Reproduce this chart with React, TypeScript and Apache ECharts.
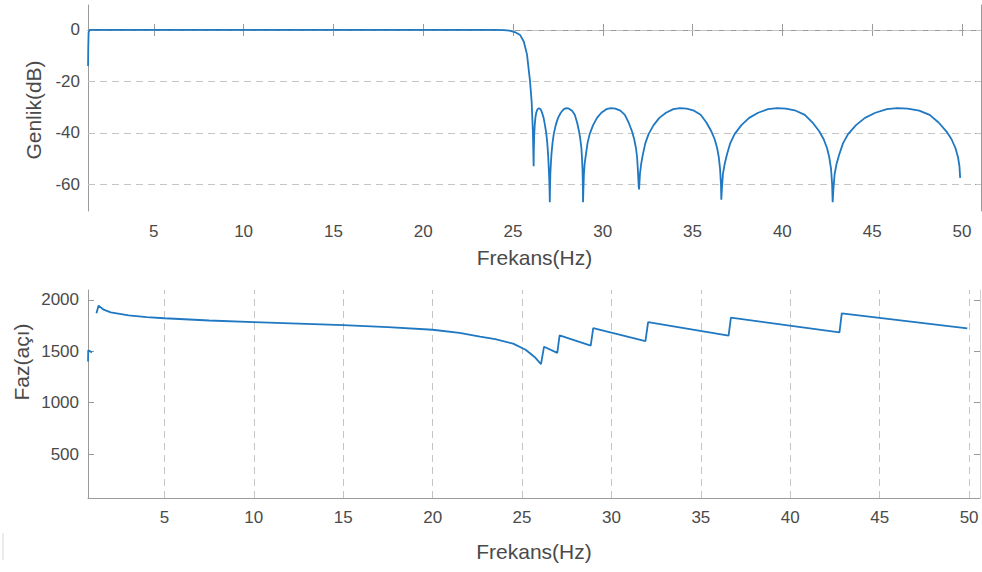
import React, { useEffect, useRef } from "react";
import * as echarts from "echarts";

// ---- Data ----
const magFreq = [
  1.34, 1.35, 1.37, 1.42, 5, 10, 15, 20, 24.0, 24.5, 24.8, 25.1, 25.4, 25.6, 25.78, 25.95, 26.04, 26.11, 26.15,
  26.16, 26.18, 26.21, 26.25, 26.3, 26.37, 26.45, 26.53, 26.61, 26.7, 26.78, 26.85, 26.91, 26.96, 27.0, 27.03, 27.05,
  27.06, 27.08, 27.11, 27.14, 27.2, 27.27, 27.38, 27.51, 27.66, 27.83, 27.98, 28.12, 28.29, 28.44, 28.57, 28.68, 28.75, 28.81, 28.84, 28.87, 28.89, 28.9,
  28.92, 28.95, 28.99, 29.06, 29.15, 29.27, 29.46, 29.68, 29.92, 30.2, 30.45, 30.7, 30.98, 31.23, 31.44, 31.63, 31.75, 31.85, 31.91, 31.95, 31.98, 32.0,
  32.02, 32.07, 32.14, 32.23, 32.37, 32.55, 32.83, 33.15, 33.52, 33.93, 34.3, 34.67, 35.08, 35.45, 35.77, 36.05, 36.23, 36.37, 36.46, 36.53, 36.58, 36.6,
  36.63, 36.69, 36.79, 36.91, 37.1, 37.34, 37.72, 38.15, 38.65, 39.2, 39.7, 40.2, 40.75, 41.25, 41.68, 42.06, 42.3, 42.49, 42.61, 42.71, 42.77, 42.8,
  42.84, 42.91, 43.02, 43.16, 43.38, 43.66, 44.1, 44.6, 45.18, 45.82, 46.4, 46.98, 47.62, 48.2, 48.7, 49.14, 49.42, 49.64, 49.78, 49.86, 49.9,
];
const magDb = [
  -14, -7, -1, 0, 0, 0, 0, 0, 0, -0.1, -0.3, -0.8, -2, -4.5, -9.5, -20, -28, -40, -53,
  -47, -41, -37, -34, -32, -30.8, -30.4, -30.8, -32, -34, -37, -40, -44, -49, -55, -60, -67,
  -62, -56, -52, -48.5, -44, -40.5, -37, -34.2, -32.2, -30.8, -30.4, -30.6, -31.4, -33, -36, -39.5, -42.5, -46, -49.5, -54, -60, -67,
  -62, -56, -52, -48.5, -44, -40.5, -37, -34.2, -32.2, -30.8, -30.4, -30.6, -31.4, -33, -36, -39.5, -42.5, -46, -49.5, -54, -58, -61,
  -62, -56, -52, -48.5, -44, -40.5, -37, -34.2, -32.2, -30.8, -30.4, -30.6, -31.4, -33, -36, -39.5, -42.5, -46, -49.5, -54, -60, -66,
  -62, -56, -52, -48.5, -44, -40.5, -37, -34.2, -32.2, -30.8, -30.4, -30.6, -31.4, -33, -36, -39.5, -42.5, -46, -49.5, -54, -60, -67,
  -62, -56, -52, -48.5, -44, -40.5, -37, -34.2, -32.2, -30.8, -30.4, -30.6, -31.4, -33, -36, -39.5, -42.5, -46, -49.5, -53, -57.5,
];

const phaseFreq = [
  0.73, 0.74, 0.95, 1.0, 1.2, 1.32, 1.6, 2.0, 3.0, 4.0, 5.0, 7.5, 10, 12.5, 15, 17.5, 20, 21.5, 22.65,
  23.5, 24.5, 25.2, 25.7, 26.06, 26.23, 26.97, 27.1, 28.84, 28.98, 31.9, 32.05, 36.55, 36.68, 42.75,
  42.88, 49.9,
];
const phaseDeg = [
  1400, 1510, 1490, null, 1870, 1945, 1905, 1880, 1850, 1832, 1822, 1800, 1785, 1770, 1755, 1735, 1710,
  1680, 1642, 1618, 1575, 1515, 1445, 1375, 1545, 1485, 1655, 1555, 1725, 1600, 1785, 1652, 1828, 1685,
  1870, 1724,
];

const freqTicks = [5, 10, 15, 20, 25, 30, 35, 40, 45, 50];
const dbTicks = [-60, -40, -20, 0];
const phaseTicks = [500, 1000, 1500, 2000];

const FONT = "'Liberation Sans', Arial, Helvetica, sans-serif";
const TEXT = "#4a4a4a";
const AXIS = "#9a9a9a";
const GRIDC = "#c4c4c4";
const BLUE = "#1f78c1";

export default function App() {
  const ref = useRef<HTMLDivElement>(null);

  useEffect(() => {
    if (!ref.current) return;
    const chart = echarts.init(ref.current, undefined, { renderer: "svg" });

    const magData = magFreq.map((f, i) => [f, magDb[i]]);
    const phaseData = phaseFreq.map((f, i) => [f, phaseDeg[i] === null ? "-" : phaseDeg[i]]);

    const axisLine = { show: true, lineStyle: { color: AXIS, width: 1 } };
    const tickIn = (vals: number[]) => ({
      show: true,
      inside: true,
      length: 6,
      customValues: vals,
      lineStyle: { color: AXIS, width: 1 },
    });
    const labelStyle = {
      color: TEXT,
      fontSize: 17,
      fontFamily: FONT,
      formatter: (v: number) => String(v),
    };

    const option: any = {
      animation: false,
      backgroundColor: "#ffffff",
      grid: [
        { left: 88, top: 5, right: 1, height: 206, containLabel: false },
        { left: 88, top: 290, right: 2, height: 208, containLabel: false },
      ],
      xAxis: [
        {
          type: "value",
          gridIndex: 0,
          min: 1.336,
          max: 51.06,
          axisLine,
          axisTick: tickIn(freqTicks),
          axisLabel: { ...labelStyle, margin: 12, customValues: freqTicks },
          splitLine: { show: false },
          name: "Frekans(Hz)",
          nameLocation: "middle",
          nameGap: 36,
          nameTextStyle: { color: TEXT, fontSize: 21, fontFamily: FONT },
        },
        {
          type: "value",
          gridIndex: 0,
          position: "top",
          min: 1.336,
          max: 51.06,
          axisLine,
          axisTick: tickIn(freqTicks),
          axisLabel: { show: false },
          splitLine: { show: false },
        },
        {
          type: "value",
          gridIndex: 1,
          min: 0.727,
          max: 50.61,
          axisLine,
          axisTick: tickIn(freqTicks),
          axisLabel: { ...labelStyle, margin: 11, customValues: freqTicks },
          splitLine: { show: false },
          name: "Frekans(Hz)",
          nameLocation: "middle",
          nameGap: 43,
          nameTextStyle: { color: TEXT, fontSize: 21, fontFamily: FONT },
        },
      ],
      yAxis: [
        {
          type: "value",
          gridIndex: 0,
          min: -70.4,
          max: 9.7,
          axisLine,
          axisTick: tickIn(dbTicks),
          axisLabel: { ...labelStyle, margin: 8, customValues: dbTicks },
          splitLine: { show: false },
        },
        {
          type: "value",
          gridIndex: 0,
          position: "right",
          min: -70.4,
          max: 9.7,
          axisLine,
          axisTick: tickIn(dbTicks),
          axisLabel: { show: false },
          splitLine: { show: false },
        },
        {
          type: "value",
          gridIndex: 1,
          min: 72,
          max: 2097,
          axisLine,
          axisTick: tickIn(phaseTicks),
          axisLabel: { ...labelStyle, margin: 9, customValues: phaseTicks },
          splitLine: { show: false },
        },
        {
          type: "value",
          gridIndex: 1,
          position: "right",
          min: 72,
          max: 2097,
          axisLine: { show: true, lineStyle: { color: "#d0d0d0", width: 1 } },
          axisTick: tickIn(phaseTicks),
          axisLabel: { show: false },
          splitLine: { show: false },
        },
      ],
      series: [
        {
          type: "line",
          xAxisIndex: 0,
          yAxisIndex: 0,
          data: magData,
          showSymbol: false,
          symbol: "none",
          lineStyle: { color: BLUE, width: 1.8 },
          z: 3,
          markLine: {
            silent: true,
            symbol: "none",
            z: 1,
            label: { show: false },
            lineStyle: { color: GRIDC, type: [7, 5], width: 1 },
            data: dbTicks.map((v) => ({ yAxis: v })),
          },
        },
        {
          type: "line",
          xAxisIndex: 2,
          yAxisIndex: 2,
          data: phaseData,
          connectNulls: false,
          showSymbol: false,
          symbol: "none",
          lineStyle: { color: BLUE, width: 1.8 },
          z: 3,
          markLine: {
            silent: true,
            symbol: "none",
            z: 1,
            label: { show: false },
            lineStyle: { color: GRIDC, type: [7, 5], width: 1 },
            data: freqTicks.map((v) => ({ xAxis: v })),
          },
        },
      ],
      graphic: [
        {
          type: "text",
          x: 33,
          y: 110,
          rotation: Math.PI / 2,
          style: {
            text: "Genlik(dB)",
            fontSize: 21,
            fontFamily: FONT,
            fill: TEXT,
            align: "center",
            verticalAlign: "middle",
          },
        },
        {
          type: "text",
          x: 21,
          y: 362,
          rotation: Math.PI / 2,
          style: {
            text: "Faz(açı)",
            fontSize: 21,
            fontFamily: FONT,
            fill: TEXT,
            align: "center",
            verticalAlign: "middle",
          },
        },
        {
          type: "line",
          shape: { x1: 3, y1: 533, x2: 3, y2: 560 },
          style: { stroke: "#d8d8d8", lineWidth: 1 },
        },
      ],
    };

    chart.setOption(option);
    return () => chart.dispose();
  }, []);

  return (
    <div
      ref={ref}
      style={{ position: "fixed", left: 0, top: 0, width: 982, height: 572, background: "#fff" }}
    />
  );
}
